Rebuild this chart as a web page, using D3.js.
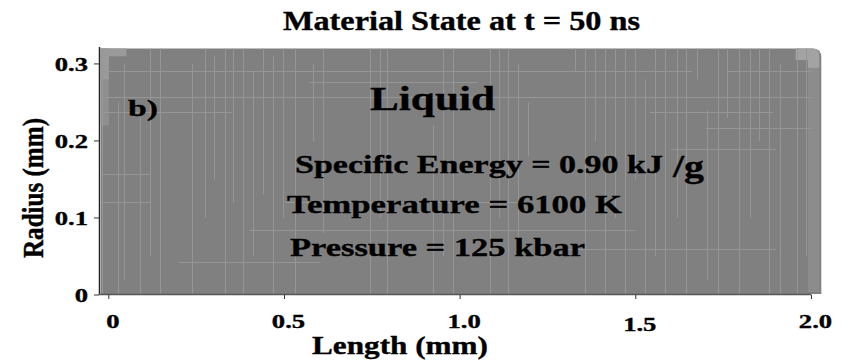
<!DOCTYPE html>
<html>
<head>
<meta charset="utf-8">
<script src="https://cdn.jsdelivr.net/npm/d3@7"></script>
<style>
  html, body { margin: 0; padding: 0; background: #fff; }
  svg { display: block; }
  text { font-family: "Liberation Serif", "Times New Roman", serif; font-weight: bold; fill: #000; stroke: #000; stroke-width: 0.35px; }
</style>
</head>
<body>
<svg id="chart" width="852" height="361"></svg>
<script>
// ---------- data ----------
const title = "Material State at t = 50 ns";
const xLabel = "Length (mm)";
const yLabel = "Radius (mm)";
const xTicks = [0, 0.5, 1.0, 1.5, 2.0];
const xTickLabels = ["0", "0.5", "1.0", "1.5", "2.0"];
const yTicks = [0, 0.1, 0.2, 0.3];
const yTickLabels = ["0", "0.1", "0.2", "0.3"];
// material region (mm): length extent and radius extent
const regionLength = [-0.023, 2.028];
const regionRadius = [0, 0.32];
const regionState = "Liquid";
const panelTag = "b)";
const stateLines = ["Specific Energy = 0.90 kJ", "Temperature = 6100 K", "Pressure = 125 kbar"];
const energyUnit = "/g";
// mesh cell boundaries visible in the plot: [length, r0, r1]
const meshCols = [
  [-0.02,0,0.32],[0.026,0,0.25],[0.043,0.02,0.30],[0.088,0,0.23],[0.117,0.05,0.32],[0.145,0,0.32],
  [0.236,0,0.30],[0.273,0.10,0.32],[0.300,0.15,0.31],[0.330,0,0.32],[0.353,0.12,0.32],[0.381,0,0.32],
  [0.410,0.05,0.29],[0.438,0.13,0.32],[0.467,0,0.31],[0.495,0.10,0.32],[0.529,0,0.32],[0.580,0.20,0.30],
  [0.609,0.08,0.32],[0.743,0,0.32],[0.771,0.10,0.32],[0.791,0,0.32],[0.922,0,0.22],[0.950,0.05,0.32],
  [0.979,0,0.32],[1.084,0,0.32],[1.112,0.10,0.32],[1.135,0,0.32],[1.164,0.05,0.30],[1.192,0.18,0.25],
  [1.326,0.29,0.32],[1.354,0,0.32],[1.383,0.20,0.32],[1.411,0,0.32],[1.440,0.10,0.32],[1.468,0,0.32],
  [1.497,0.15,0.32],[1.525,0,0.28],[1.554,0.05,0.32],[1.582,0,0.32],[1.616,0.10,0.32],[1.644,0,0.32],
  [1.673,0.28,0.32],[1.704,0.02,0.24],[1.733,0,0.32],[1.761,0.23,0.32],[1.795,0,0.32],[1.824,0.10,0.32],
  [1.852,0.20,0.32],[1.880,0,0.32],[1.910,0,0.30],[1.960,0,0.32],[1.985,0.05,0.32]
];
// [radius, x0, x1]
const meshRows = [
  [0.291,-0.02,1.66],[0.291,1.76,2.0],[0.277,0.57,1.05],[0.257,-0.02,2.0],[0.237,1.54,1.89],
  [0.237,-0.02,0.35],[0.217,1.70,2.0],[0.190,1.60,1.90],[0.157,-0.02,0.12],[0.121,-0.02,0.12],
  [0.121,0.50,1.20],[0.084,0.40,1.50],[0.043,0.20,0.60],[0.060,1.30,1.90]
];

// ---------- layout ----------
const svg = d3.select("#chart");
const x = d3.scaleLinear().domain([-0.028, 2.03]).range([99, 822]);
const y = d3.scaleLinear().domain([0, 0.32]).range([295, 48.5]);

function stretch(sel, f) {
  sel.each(function () {
    const w = this.getComputedTextLength();
    d3.select(this).attr("textLength", w * f).attr("lengthAdjust", "spacingAndGlyphs");
  });
  return sel;
}

// material region
const x0 = x(regionLength[0]), x1 = x(regionLength[1]);
const yt = y(regionRadius[1]), yb = y(regionRadius[0]) - 1;
const rr = 9;
svg.append("path")
  .attr("d", `M${x0},${yb}L${x0},${yt}L${x1 - rr},${yt}Q${x1},${yt} ${x1},${yt + rr}L${x1},${yb}Z`)
  .attr("fill", "#808080");

// lighter edge zones
svg.append("rect").attr("x", x0).attr("y", yt).attr("width", x(0.0) - x0).attr("height", y(0.22) - yt)
  .attr("fill", "#8f8f8f");
svg.append("path")
  .attr("d", `M${x0},${yt}L${x(0.05)},${yt}L${x(0.05)},${y(0.31)}L${x(0.0)},${y(0.31)}L${x(0.0)},${y(0.28)}L${x0},${y(0.28)}Z`)
  .attr("fill", "#9a9a9a");
svg.append("rect").attr("x", x(1.99)).attr("y", yt + 2).attr("width", x1 - x(1.99) - 2).attr("height", yb - yt - 4)
  .attr("fill", "#8c8c8c");
svg.append("path")
  .attr("d", `M${x(1.955)},${yt}L${x1 - rr},${yt}Q${x1 - 2},${yt} ${x1 - 2},${yt + rr}L${x1 - 2},${y(0.295)}L${x(1.99)},${y(0.295)}L${x(1.99)},${y(0.305)}L${x(1.955)},${y(0.305)}Z`)
  .attr("fill", "#a3a3a3");

// mesh lines
const mesh = svg.append("g").attr("stroke", "#969696").attr("stroke-width", 1).attr("fill", "none");
mesh.selectAll("line.c").data(meshCols).join("line").attr("class", "c")
  .attr("x1", d => Math.round(x(d[0])) + 0.5).attr("x2", d => Math.round(x(d[0])) + 0.5)
  .attr("y1", d => y(d[1])).attr("y2", d => y(d[2]));
mesh.selectAll("line.r").data(meshRows).join("line").attr("class", "r")
  .attr("y1", d => Math.round(y(d[0])) + 0.5).attr("y2", d => Math.round(y(d[0])) + 0.5)
  .attr("x1", d => x(d[1])).attr("x2", d => x(d[2]));

// axes
svg.append("line").attr("x1", 99.5).attr("x2", 99.5).attr("y1", 47).attr("y2", 295)
  .attr("stroke", "#222").attr("stroke-width", 1.5);
svg.append("line").attr("x1", 99).attr("x2", x(2.0)).attr("y1", 294.5).attr("y2", 294.5)
  .attr("stroke", "#555").attr("stroke-width", 1.5);

svg.selectAll("line.yt").data(yTicks).join("line").attr("class", "yt")
  .attr("x1", 94).attr("x2", 99).attr("y1", d => y(d)).attr("y2", d => y(d))
  .attr("stroke", "#333").attr("stroke-width", 1);
svg.selectAll("line.xt").data(xTicks).join("line").attr("class", "xt")
  .attr("x1", d => x(d)).attr("x2", d => x(d)).attr("y1", 295).attr("y2", 299)
  .attr("stroke", "#333").attr("stroke-width", 1);

stretch(svg.selectAll("text.yl").data(yTicks).join("text").attr("class", "yl")
  .attr("x", 88).attr("y", d => y(d) + 7).attr("text-anchor", "end")
  .attr("font-size", 19).text((d, i) => yTickLabels[i]), 1.4);
stretch(svg.selectAll("text.xl").data(xTicks).join("text").attr("class", "xl")
  .attr("x", d => x(d) + 4).attr("y", (d, i) => 328 + (i === 3 ? 3 : 0)).attr("text-anchor", "middle")
  .attr("font-size", 19).text((d, i) => xTickLabels[i]), 1.4);

// titles
svg.append("text").attr("x", 283).attr("y", 30).attr("font-size", 27)
  .attr("textLength", 357).attr("lengthAdjust", "spacingAndGlyphs").text(title);
svg.append("text").attr("x", 312).attr("y", 354).attr("font-size", 25)
  .attr("textLength", 176).attr("lengthAdjust", "spacingAndGlyphs").text(xLabel);
svg.append("g").attr("transform", "translate(43,258) scale(1.2,1) rotate(-90)")
  .append("text").attr("x", 0).attr("y", 0).attr("font-size", 25)
  .attr("textLength", 140).attr("lengthAdjust", "spacingAndGlyphs").text(yLabel);

// annotations
svg.append("text").attr("x", 128).attr("y", 116).attr("font-size", 24)
  .attr("textLength", 30).attr("lengthAdjust", "spacingAndGlyphs").text(panelTag);
svg.append("text").attr("x", 370).attr("y", 110).attr("font-size", 33)
  .attr("textLength", 125).attr("lengthAdjust", "spacingAndGlyphs").text(regionState);
const lineX = [295, 287, 290], lineY = [173, 213, 256], lineW = [368, 335, 295];
stateLines.forEach((s, i) => {
  svg.append("text").attr("x", lineX[i]).attr("y", lineY[i]).attr("font-size", 26)
    .attr("textLength", lineW[i]).attr("lengthAdjust", "spacingAndGlyphs").text(s);
});
svg.append("text").attr("x", 673).attr("y", 177).attr("font-size", 32)
  .attr("textLength", 31).attr("lengthAdjust", "spacingAndGlyphs").text(energyUnit);
</script>
</body>
</html>
